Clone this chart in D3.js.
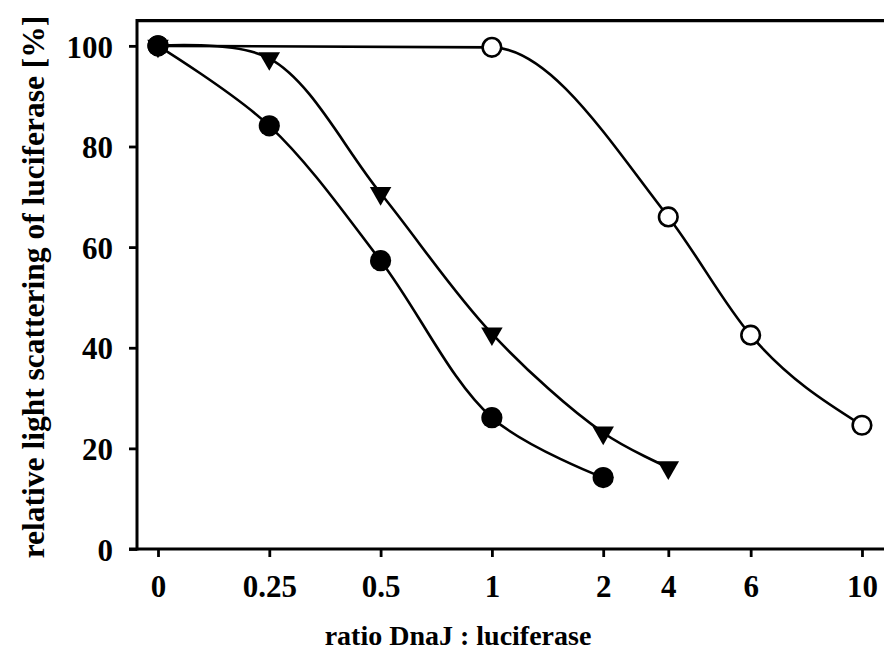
<!DOCTYPE html>
<html>
<head>
<meta charset="utf-8">
<script src="https://cdn.jsdelivr.net/npm/d3@7"></script>
<style>
  html, body { margin: 0; padding: 0; background: #fff; }
  svg { display: block; }
  text { font-family: "Liberation Serif", "Times New Roman", serif; font-weight: bold; fill: #000; }
</style>
</head>
<body>
<svg id="chart" width="884" height="651"></svg>
<script>
// ---- data ----
const xTicks = [0, 0.25, 0.5, 1, 2, 4, 6, 10];
const xTickLabels = ["0", "0.25", "0.5", "1", "2", "4", "6", "10"];
const yTicks = [0, 20, 40, 60, 80, 100];

const filledX = [0, 0.25, 0.5, 1, 2];
const filledY = [100, 84.1, 57.3, 26.1, 14.2];

const triangleX = [0, 0.25, 0.5, 1, 2, 4];
const triangleY = [100, 97.5, 70.7, 42.8, 23.1, 16.2];

const openX = [0, 1, 4, 6, 10];
const openY = [100, 99.7, 66.0, 42.5, 24.6];

// ---- layout ----
const plotLeft = 137, plotTop = 20.7, plotBottom = 549, plotRight = 884;
const x0 = 158, step = 111.3;
// relative spacing of the (non-uniform) category axis, in steps
const xSpacing = [0, 1, 2, 3, 4, 4.585, 5.325, 6.325];

const x = d3.scaleLinear().domain(xTicks).range(xSpacing.map(s => x0 + s * step));
const y = d3.scaleLinear().domain([0, 105]).range([plotBottom, plotTop]);

const svg = d3.select("#chart");

// frame: top line
svg.append("line").attr("x1", plotLeft).attr("x2", plotRight).attr("y1", plotTop).attr("y2", plotTop)
  .attr("stroke", "#000").attr("stroke-width", 3.2);

// y axis
const yAxis = svg.append("g").attr("transform", `translate(${plotLeft},0)`)
  .call(d3.axisLeft(y).tickValues(yTicks).tickSize(8).tickPadding(16).tickFormat(d3.format("d")));
yAxis.select(".domain").remove();
yAxis.selectAll(".tick line").attr("stroke", "#000").attr("stroke-width", 2.8);
yAxis.selectAll(".tick text").style("font-size", "31px").attr("dy", "0.36em");
svg.append("line").attr("x1", plotLeft).attr("x2", plotLeft).attr("y1", plotTop - 1.6).attr("y2", plotBottom + 1.5)
  .attr("stroke", "#000").attr("stroke-width", 3);

// x axis
const xAxis = svg.append("g").attr("transform", `translate(0,${plotBottom})`)
  .call(d3.axisBottom(x).tickValues(xTicks).tickSize(8).tickPadding(18)
    .tickFormat((d, i) => xTickLabels[i]));
xAxis.select(".domain").remove();
xAxis.selectAll(".tick line").attr("stroke", "#000").attr("stroke-width", 2.8);
xAxis.selectAll(".tick text").style("font-size", "31px");
svg.append("line").attr("x1", plotLeft - 8).attr("x2", plotRight).attr("y1", plotBottom).attr("y2", plotBottom)
  .attr("stroke", "#000").attr("stroke-width", 3);

// axis titles
svg.append("text").attr("x", 458).attr("y", 645).attr("text-anchor", "middle")
  .style("font-size", "28px").text("ratio DnaJ : luciferase");
svg.append("text").attr("transform", "translate(44,287) rotate(-90)").attr("text-anchor", "middle")
  .style("font-size", "31.5px").text("relative light scattering of luciferase [%]");

// curves
const zip = (a, b) => a.map((v, i) => [v, b[i]]);
const smooth = d3.line().x(d => x(d[0])).y(d => y(d[1])).curve(d3.curveCatmullRom.alpha(0.5));
const mono = d3.line().x(d => x(d[0])).y(d => y(d[1])).curve(d3.curveMonotoneX);
const curves = [
  { pts: zip(openX, openY), gen: mono },
  { pts: zip(triangleX, triangleY), gen: smooth },
  { pts: zip(filledX, filledY), gen: smooth }
];
svg.append("g").selectAll("path").data(curves).join("path")
  .attr("d", d => d.gen(d.pts)).attr("fill", "none").attr("stroke", "#000").attr("stroke-width", 2.6);

// markers: open circles
svg.append("g").selectAll("circle").data(zip(openX, openY)).join("circle")
  .attr("cx", d => x(d[0])).attr("cy", d => y(d[1])).attr("r", 9.3)
  .attr("fill", "#fff").attr("stroke", "#000").attr("stroke-width", 2.6);

// markers: downward triangles
const tri = d3.symbol().type(d3.symbolTriangle).size(200);
svg.append("g").selectAll("path").data(zip(triangleX, triangleY)).join("path")
  .attr("d", tri)
  .attr("transform", d => `translate(${x(d[0])},${y(d[1])}) rotate(180)`)
  .attr("fill", "#000");

// markers: filled circles
svg.append("g").selectAll("circle").data(zip(filledX, filledY)).join("circle")
  .attr("cx", d => x(d[0])).attr("cy", d => y(d[1])).attr("r", 10.6)
  .attr("fill", "#000");
</script>
</body>
</html>
